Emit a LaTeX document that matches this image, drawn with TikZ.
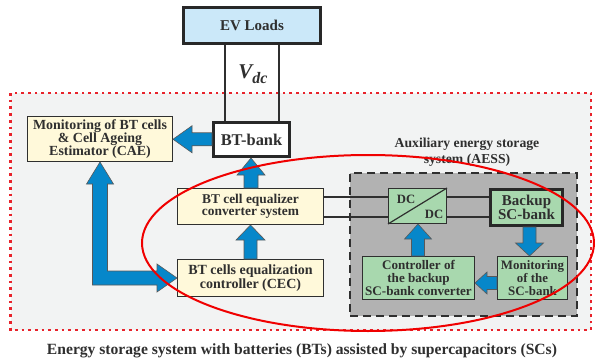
\documentclass[tikz,border=0pt]{standalone}
\usepackage{fontspec}
\setmainfont{Liberation Serif}
\usetikzlibrary{calc}
\definecolor{evblue}{HTML}{CBE8F9}
\definecolor{cream}{HTML}{FFF9DA}
\definecolor{sgreen}{HTML}{A8D8AE}
\definecolor{aessgray}{HTML}{B2B2B2}
\definecolor{framebg}{HTML}{F2F3F3}
\definecolor{arrowblue}{HTML}{0687CA}
\definecolor{ink}{HTML}{2F2F2F}
\definecolor{framered}{HTML}{E8232B}
\definecolor{ellred}{HTML}{F00000}
\newcommand\fs[2]{\fontsize{#1}{#2}\selectfont}
% fat arrows: #1 from, #2 to, #3 half shaft, #4 half head, #5 head length
\newcommand\fatup[5]{\draw[fatarrow] let \p1=#1, \p2=#2, \p3=($(\p1)!.5!(\p2)$) in
  (\x3-#3,\y1) -- (\x3-#3,\y2-#5) -- (\x3-#4,\y2-#5) -- (\x3,\y2) -- (\x3+#4,\y2-#5) -- (\x3+#3,\y2-#5) -- (\x3+#3,\y1) -- cycle;}
\newcommand\fatdown[5]{\draw[fatarrow] let \p1=#1, \p2=#2, \p3=($(\p1)!.5!(\p2)$) in
  (\x3-#3,\y1) -- (\x3-#3,\y2+#5) -- (\x3-#4,\y2+#5) -- (\x3,\y2) -- (\x3+#4,\y2+#5) -- (\x3+#3,\y2+#5) -- (\x3+#3,\y1) -- cycle;}
\newcommand\fatleft[5]{\draw[fatarrow] let \p1=#1, \p2=#2, \p3=($(\p1)!.5!(\p2)$) in
  (\x1,\y3-#3) -- (\x2+#5,\y3-#3) -- (\x2+#5,\y3-#4) -- (\x2,\y3) -- (\x2+#5,\y3+#4) -- (\x2+#5,\y3+#3) -- (\x1,\y3+#3) -- cycle;}
\tikzset{
  box/.style={draw=ink, line width=1.4pt, text=ink, font=\bfseries, align=center, inner sep=0pt},
  creambox/.style={box, fill=cream},
  greenbox/.style={box, fill=sgreen},
  thickbox/.style={line width=3.2pt, draw=ink!85!black},
  wire/.style={draw=ink, line width=1.5pt},
  fatarrow/.style={fill=arrowblue, draw=ink!80, line width=0.6pt, line join=miter},
  lbl/.style={text=ink, font=\bfseries, align=center, inner sep=0pt},
}
\begin{document}
\begin{tikzpicture}[x=1pt,y=-1pt]
\useasboundingbox (0,0) rectangle (595,364);
% outer frame
\draw[fill=framebg, draw=framered, line width=2.7pt, dash pattern=on 2.7pt off 4pt] (10.7,93) rectangle (591,330);
% AESS
\node[draw=ink, fill=aessgray, line width=1.8pt, dash pattern=on 8pt off 5pt, minimum width=227pt, minimum height=143pt, inner sep=0pt] (aess) at (463.5,244.5) {};
\node[lbl, font=\bfseries\fs{13.7}{15.5}] (aesslbl) at (467,152) {Auxiliary energy storage\\system (AESS)};
% boxes
\node[box, thickbox, fill=evblue, minimum width=136.8pt, minimum height=35.8pt, font=\bfseries\fs{15}{18}] (ev) at (252,25.5) {EV Loads};
\node[box, thickbox, fill=white, minimum width=75.8pt, minimum height=33.8pt, font=\bfseries\fs{16.4}{18}] (bt) at (251.5,139.5) {BT-bank};
\node[creambox, minimum width=144.6pt, minimum height=44.6pt, font=\bfseries\fs{13.9}{13.3}] (cae) at (100,139) {Monitoring of BT cells\\\& Cell Ageing\\Estimator (CAE)};
\node[creambox, minimum width=145.6pt, minimum height=35.6pt, font=\bfseries\fs{13.4}{12.5}] (eq) at (250.5,206.5) {BT cell equalizer\\converter system};
\node[creambox, minimum width=145.6pt, minimum height=36.6pt, font=\bfseries\fs{14}{12.5}] (cec) at (250.5,278) {BT cells equalization\\controller (CEC)};
\node[greenbox, minimum width=57.6pt, minimum height=34.6pt] (dc) at (417.5,206) {};
\node[greenbox, thickbox, minimum width=71.8pt, minimum height=35.8pt, font=\bfseries\fs{15}{14.5}] (backup) at (526.5,207.5) {Backup\\SC-bank};
\node[greenbox, minimum width=69.6pt, minimum height=42.6pt, font=\bfseries\fs{12.9}{12.8}] (mon) at (532.5,278) {Monitoring\\of the\\SC-bank};
\node[greenbox, minimum width=111.6pt, minimum height=42.6pt, font=\bfseries\fs{13.1}{13}] (ctrl) at (418.5,278) {Controller of\\the backup\\SC-bank converter};
% DC/DC details
\draw[line width=1.2pt, draw=ink] (dc.south west) -- (dc.north east);
\node[lbl, font=\bfseries\fs{12.7}{13}] (dc1) at (406,199) {DC};
\node[lbl, font=\bfseries\fs{12.7}{13}] (dc2) at (434,214) {DC};
% wires
\draw[wire] ([xshift=-27pt]ev.south) -- ([xshift=-27pt]ev.south |- bt.north);
\draw[wire] ([xshift=27pt]ev.south) -- ([xshift=27pt]ev.south |- bt.north);
\coordinate (w1) at ($(eq.east)+(0,-9.5)$);
\coordinate (w2) at ($(eq.east)+(0,10.5)$);
\draw[wire] (w1) -- (w1 -| dc.west);
\draw[wire] (w2) -- (w2 -| dc.west);
\draw[wire] (w1 -| dc.east) -- (w1 -| backup.west);
\draw[wire] (w2 -| dc.east) -- (w2 -| backup.west);
% Vdc label
\node[lbl] (vdc) at (253,74) {{\fs{21}{21}\bfseries\itshape V}{\fs{16}{16}\bfseries\itshape\raisebox{-5pt}{dc}}};
% fat arrows
\fatleft{(bt.west)}{(cae.east)}{6.5pt}{13.5pt}{19pt}
\fatup{(eq.north)}{(bt.south)}{7pt}{14pt}{17pt}
\fatup{(cec.north)}{(eq.south)}{6.5pt}{14.5pt}{15pt}
\fatup{(ctrl.north)}{(dc.south)}{6.5pt}{13.5pt}{15pt}
\fatdown{(backup.south)}{(mon.north)}{6.5pt}{14pt}{13pt}
\fatleft{($(mon.west)+(0,5)$)}{($(ctrl.east)+(0,5)$)}{6.5pt}{11pt}{12pt}
\draw[fatarrow] let \p1=(cae.south), \p2=(cec.west) in
  (\x1-7.5pt,\y2-7pt) -- (\x2-20pt,\y2-7pt) -- (\x2-20pt,\y2-14pt) -- (\x2,\y2)
  -- (\x2-20pt,\y2+14pt) -- (\x2-20pt,\y2+7pt) -- (\x1+7.5pt,\y2+7pt)
  -- (\x1+7.5pt,\y1-22pt) -- (\x1+13.5pt,\y1-22pt) -- (\x1,\y1)
  -- (\x1-13.5pt,\y1-22pt) -- (\x1-7.5pt,\y1-22pt) -- cycle;
% red ellipse
\draw[ellred, line width=2pt] (368,243) ellipse [x radius=226pt, y radius=88pt];
% caption
\node[lbl, font=\bfseries\fs{15.6}{18}] (caption) at (302,351) {Energy storage system with batteries (BTs) assisted by supercapacitors (SCs)};
\end{tikzpicture}
\end{document}
